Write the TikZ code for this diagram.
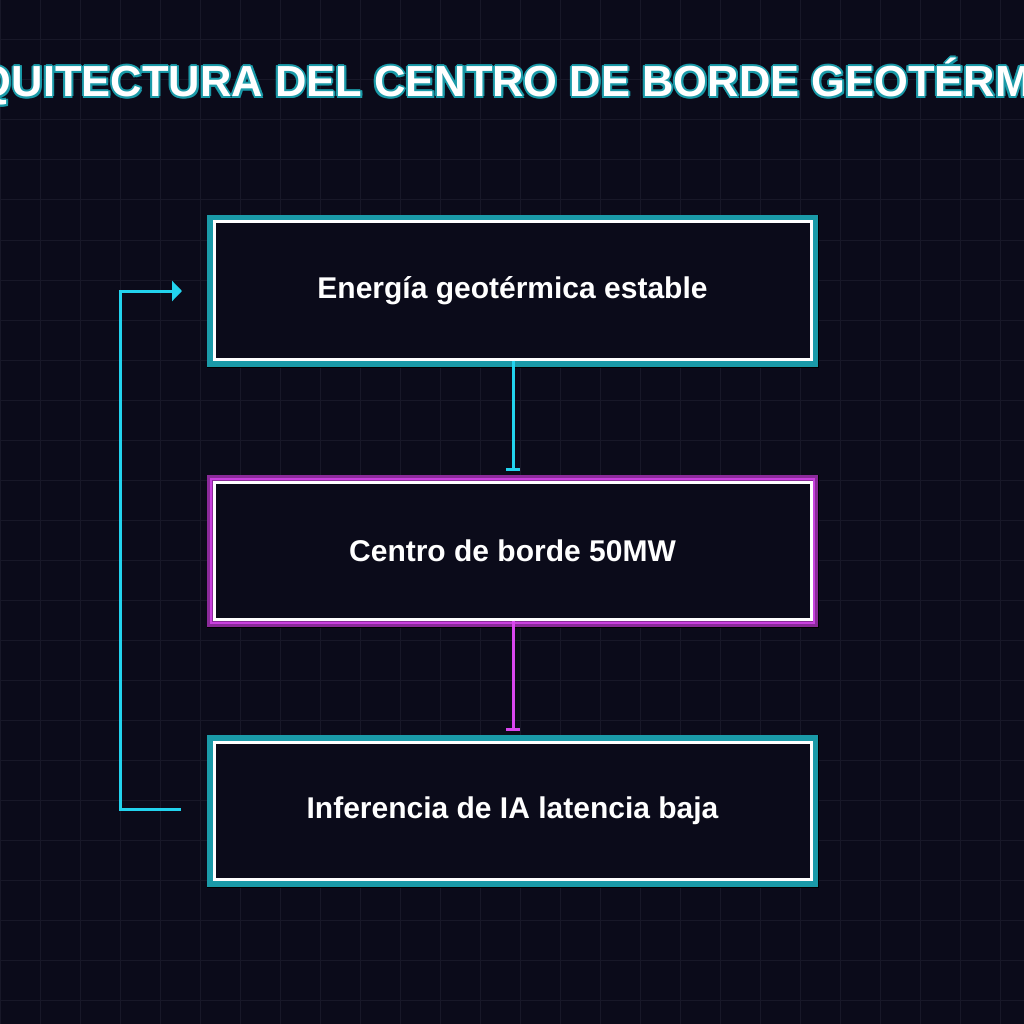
\documentclass[tikz,border=0pt]{standalone}
\usepackage{fontspec}
\setmainfont{Liberation Sans}
\usetikzlibrary{arrows.meta}
\definecolor{bg}{HTML}{0B0B1A}
\definecolor{gridc}{HTML}{181828}
\definecolor{cy}{HTML}{22D3EE}
\definecolor{teal}{HTML}{1A9AA8}
\definecolor{mag}{HTML}{D946EF}
\definecolor{dmag}{HTML}{8B2A9A}
\tikzset{
  boxw/.style={draw=white,line width=3pt,fill=bg,minimum width=597pt,minimum height=137pt,font=\bfseries\fontsize{30}{33}\selectfont,text=white},
  cyline/.style={draw=cy,line width=3pt},
  magline/.style={draw=mag,line width=3pt},
  ttl/.style={font=\bfseries\fontsize{43.5}{47}\selectfont},
}
\begin{document}
\begin{tikzpicture}[x=1pt,y=-1pt]
\fill[bg] (0,0) rectangle (1024,1024);
\useasboundingbox (0,0) rectangle (1024,1024);
\begin{scope}
\clip (0,0) rectangle (1024,1024);
\foreach \i in {0,40,...,1000} {
  \draw[gridc,line width=1pt] (\i,0) -- (\i,1024);
  \draw[gridc,line width=1pt] (0,\i) -- (1024,\i);
}
\foreach \dx/\dy in {-2/0,2/0,0/-2,0/2,-1.5/-1.5,1.5/1.5,-1.5/1.5,1.5/-1.5}
  \node[ttl,text=teal] at (512+\dx,82+\dy) {ARQUITECTURA DEL CENTRO DE BORDE GEOTÉRMICO};
\node[ttl,text=white] (t) at (512,82) {ARQUITECTURA DEL CENTRO DE BORDE GEOTÉRMICO};
\end{scope}
% glow frames
\fill[black] (207,215) rectangle (819,368);
\draw[teal,line width=6pt] (210,218) rectangle (815,364);
\fill[black] (207,475) rectangle (819,628);
\draw[dmag,line width=6pt] (210,478) rectangle (815,624);
\draw[mag!80!dmag,line width=2pt] (211,479) rectangle (814,623);
\fill[black] (207,735) rectangle (819,888);
\draw[teal,line width=6pt] (210,738) rectangle (815,884);
\node[boxw] (a) at (512.5,290.5) {Energía geotérmica estable};
\node[boxw] (b) at (512.5,550.5) {Centro de borde 50MW};
\node[boxw] (c) at (512.5,810.5) {Inferencia de IA latencia baja};
\coordinate (a1) at (513,471);
\coordinate (b1) at (513,731);
\draw[cyline,-{Bar[width=14pt]}] (a.south -| a1) -- (a1);
\draw[magline,-{Bar[width=14pt]}] (b.south -| b1) -- (b1);
\coordinate (l1) at (181,809);
\coordinate (l2) at (120,809);
\coordinate (l3) at (120,291);
\coordinate (l4) at (182,291);
\draw[cyline,-{Triangle[length=10pt,width=20pt]}] (l1) -- (l2) -- (l3) -- (l4);
\end{tikzpicture}
\end{document}
